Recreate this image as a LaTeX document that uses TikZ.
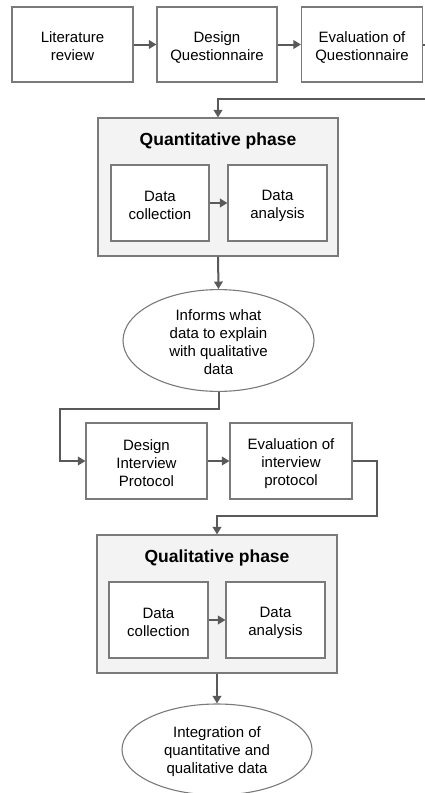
\documentclass[tikz,border=0pt]{standalone}
\usepackage{fontspec}
\setmainfont{Liberation Sans}
\usetikzlibrary{arrows.meta,shapes.geometric,calc}
\definecolor{linecol}{HTML}{595959}
\definecolor{boxcol}{HTML}{7A7A7A}
\definecolor{phasefill}{HTML}{F3F3F3}
\newcommand{\myln}[1]{#1\rule[-2pt]{0pt}{18pt}}
\newcommand{\mynodefont}{\fontsize{15}{18}\selectfont\setlength{\lineskiplimit}{-50pt}}
\begin{document}
\begin{tikzpicture}[x=1pt,y=-1pt,
  txt/.style={font=\mynodefont, align=center, text=black},
  stepbox/.style={txt, draw=boxcol, line width=1.1pt, fill=white, rectangle, inner sep=0pt},
  phasebox/.style={draw=boxcol, line width=1.1pt, fill=phasefill, rectangle, inner sep=0pt},
  ovalbox/.style={txt, draw=boxcol, line width=1.1pt, fill=white, ellipse, inner sep=0pt},
  conn/.style={draw=linecol, line width=2pt, -{Triangle[length=7.5pt,width=8.5pt]}},
  ttl/.style={font=\bfseries\fontsize{17.5}{20}\selectfont, text=black}
]
\useasboundingbox (0,0) rectangle (424,793);
% top row
\node[stepbox, minimum width=121pt, minimum height=75pt] (lit) at (72.5,44.5) {\myln{Literature}\\\myln{review}};
\node[stepbox, minimum width=120pt, minimum height=75pt] (dq) at (217,44.5) {\myln{Design}\\\myln{Questionnaire}};
\node[stepbox, minimum width=121pt, minimum height=75pt] (eq) at (362,44.5) {\myln{Evaluation of}\\\myln{Questionnaire}};
% quantitative phase
\node[phasebox, minimum width=240pt, minimum height=138pt] (quant) at (218,187) {};
\node[ttl] (quantt) at (218,141) {Quantitative phase};
\node[stepbox, minimum width=98pt, minimum height=76pt] (dc1) at (160,203) {\myln{Data}\\\myln{collection}};
\node[stepbox, minimum width=99pt, minimum height=76pt] (da1) at (277.5,203) {\myln{Data}\\\myln{analysis}};
% ellipse 1
\node[ovalbox, minimum width=191pt, minimum height=95pt] (ell1) at (218.5,340.5) {\myln{Informs what}\\\myln{data to explain}\\\myln{with qualitative}\\\myln{data}};
% interview row
\node[stepbox, minimum width=121pt, minimum height=76pt] (dip) at (146.5,461) {\myln{Design}\\\myln{Interview}\\\myln{Protocol}};
\node[stepbox, minimum width=122pt, minimum height=76pt] (eip) at (291,461) {\myln{Evaluation of}\\\myln{interview}\\\myln{protocol}};
% qualitative phase
\node[phasebox, minimum width=240pt, minimum height=138pt] (qual) at (217,604) {};
\node[ttl] (qualt) at (217,558) {Qualitative phase};
\node[stepbox, minimum width=99pt, minimum height=76pt] (dc2) at (158.5,620) {\myln{Data}\\\myln{collection}};
\node[stepbox, minimum width=99pt, minimum height=76pt] (da2) at (275.5,620) {\myln{Data}\\\myln{analysis}};
% ellipse 2
\node[ovalbox, minimum width=190pt, minimum height=91pt] (ell2) at (217,749.5) {\myln{Integration of}\\\myln{quantitative and}\\\myln{qualitative data}};
% connectors
\draw[conn] (lit.east) -- (dq.west);
\draw[conn] (dq.east) -- (eq.west);
\draw[conn] (eq.east) -- ++(10,0) |- ($(quant.north)+(0,-18)$) -- (quant.north);
\draw[conn] (dc1.east) -- (da1.west);
\draw[conn] (quant.south) -- (ell1.north);
\draw[conn] (ell1.south) -- ++(0,17) -| ($(dip.west)+(-25,0)$) -- (dip.west);
\draw[conn] (dip.east) -- (eip.west);
\draw[conn] (eip.east) -- ++(24,0) |- ($(qual.north)+(0,-18)$) -- (qual.north);
\draw[conn] (dc2.east) -- (da2.west);
\draw[conn] (qual.south) -- (ell2.north);
\end{tikzpicture}
\end{document}
